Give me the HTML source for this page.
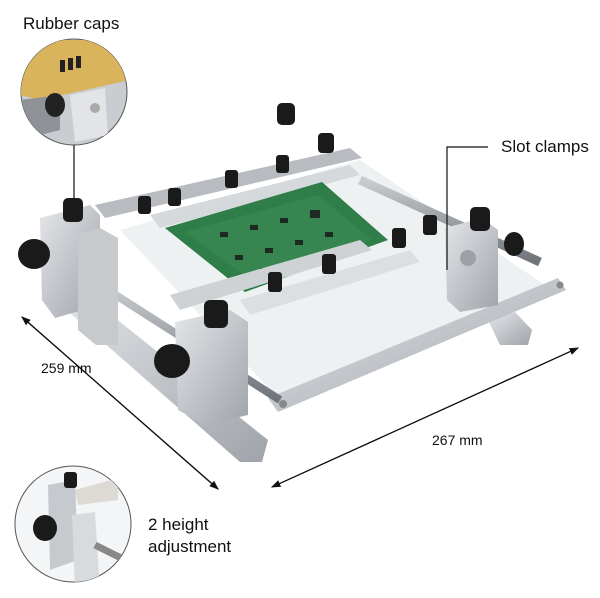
<!DOCTYPE html>
<html><head><meta charset="utf-8"><style>
body{margin:0;background:#fff;}
svg{display:block;font-family:"Liberation Sans",sans-serif;}
</style></head><body>
<svg width="600" height="598" viewBox="0 0 600 598" xmlns="http://www.w3.org/2000/svg">
<defs>
<linearGradient id="al" x1="0" y1="0" x2="1" y2="1"><stop offset="0" stop-color="#e4e6e9"/><stop offset="1" stop-color="#9fa4aa"/></linearGradient>
<linearGradient id="rod" x1="0" y1="0" x2="0" y2="1"><stop offset="0" stop-color="#c9ccd0"/><stop offset="1" stop-color="#6f747a"/></linearGradient>
<marker id="ah" markerWidth="8" markerHeight="8" refX="7" refY="4" orient="auto"><path d="M0,1 L8,4 L0,7 Z" fill="#111"/></marker>
<clipPath id="c1"><circle cx="74" cy="92" r="53"/></clipPath>
<clipPath id="c2"><circle cx="73" cy="524" r="58"/></clipPath>
</defs>
<!-- glass -->
<polygon points="120,230 360,160 545,285 280,400" fill="#eef1f2"/>
<!-- feet -->
<polygon points="55,300 80,290 268,440 262,462 240,462" fill="url(#al)"/>
<polygon points="488,320 515,312 532,330 528,345 500,345" fill="url(#al)"/>
<!-- back rail -->
<polygon points="95,205 350,148 362,158 105,218" fill="#b8bcc1"/>
<polygon points="150,215 350,165 360,175 160,228" fill="#d6d9dc"/>
<!-- right rod -->
<line x1="360" y1="180" x2="540" y2="262" stroke="url(#rod)" stroke-width="9"/>
<!-- PCB -->
<polygon points="165,228 322,182 388,240 245,292" fill="#2f7d48"/>
<polygon points="185,232 318,195 372,240 248,278" fill="#3a8a52" opacity="0.7"/>
<g fill="#1d2a22">
<rect x="220" y="232" width="8" height="5"/><rect x="250" y="225" width="8" height="5"/><rect x="280" y="218" width="8" height="5"/><rect x="310" y="210" width="10" height="8"/><rect x="235" y="255" width="8" height="5"/><rect x="265" y="248" width="8" height="5"/><rect x="295" y="240" width="8" height="5"/><rect x="325" y="232" width="8" height="5"/><rect x="260" y="268" width="8" height="5"/><rect x="300" y="258" width="8" height="5"/>
</g>
<!-- middle slot rail -->
<polygon points="170,295 360,240 372,250 180,310" fill="#cfd2d5"/>
<polygon points="240,300 410,250 420,262 250,315" fill="#dcdfe2"/>
<!-- front rail -->
<polygon points="268,398 558,278 566,290 278,412" fill="url(#al)"/>
<circle cx="283" cy="404" r="4" fill="#888"/><circle cx="560" cy="285" r="3.5" fill="#888"/>
<!-- left rod -->
<line x1="100" y1="285" x2="280" y2="400" stroke="url(#rod)" stroke-width="8"/>
<!-- left blocks -->
<polygon points="40,218 90,205 100,215 100,305 55,318 42,300" fill="url(#al)"/>
<polygon points="78,235 100,228 118,238 118,345 96,345 78,330" fill="#c7cacd"/>
<polygon points="175,322 230,310 248,322 248,415 205,425 178,410" fill="url(#al)"/>
<!-- right block -->
<polygon points="445,228 482,218 498,230 498,305 460,312 447,300" fill="url(#al)"/>
<!-- knobs -->
<g fill="#1a1a1a">
<rect x="63" y="198" width="20" height="24" rx="5"/>
<rect x="204" y="300" width="24" height="28" rx="6"/>
<rect x="470" y="207" width="20" height="24" rx="5"/>
<rect x="277" y="103" width="18" height="22" rx="5"/>
<rect x="318" y="133" width="16" height="20" rx="4"/>
<rect x="138" y="196" width="13" height="18" rx="3"/>
<rect x="168" y="188" width="13" height="18" rx="3"/>
<rect x="225" y="170" width="13" height="18" rx="3"/>
<rect x="276" y="155" width="13" height="18" rx="3"/>
<rect x="392" y="228" width="14" height="20" rx="3"/>
<rect x="423" y="215" width="14" height="20" rx="3"/>
<rect x="322" y="254" width="14" height="20" rx="3"/>
<rect x="268" y="272" width="14" height="20" rx="3"/>
<ellipse cx="34" cy="254" rx="16" ry="15"/>
<ellipse cx="172" cy="361" rx="18" ry="17"/>
<ellipse cx="514" cy="244" rx="10" ry="12"/>
</g>
<circle cx="468" cy="258" r="8" fill="#9ca1a6"/>
<!-- top inset -->
<circle cx="74" cy="92" r="53" fill="#c9ccd0" stroke="#555" stroke-width="1"/>
<g clip-path="url(#c1)">
<polygon points="20,40 130,40 130,80 40,100 20,95" fill="#d9b45c"/>
<rect x="60" y="60" width="5" height="12" fill="#222"/><rect x="68" y="58" width="5" height="12" fill="#222"/><rect x="76" y="56" width="5" height="12" fill="#222"/>
<polygon points="20,100 60,95 60,130 20,140" fill="#8f9398"/>
<ellipse cx="55" cy="105" rx="10" ry="12" fill="#222"/>
<polygon points="70,95 105,88 108,135 75,142" fill="#e2e4e7"/>
<circle cx="95" cy="108" r="5" fill="#aaa"/>
</g>
<line x1="74" y1="145" x2="74" y2="200" stroke="#111" stroke-width="1.2"/>
<!-- bottom inset -->
<circle cx="73" cy="524" r="58" fill="#f4f5f6" stroke="#555" stroke-width="1"/>
<g clip-path="url(#c2)">
<polygon points="48,485 75,480 78,560 50,570" fill="#c6c9cd"/>
<polygon points="75,490 118,478 118,500 78,505" fill="#dcdad2"/>
<polygon points="72,515 95,512 100,590 75,590" fill="#d8dbde"/>
<line x1="95" y1="545" x2="125" y2="560" stroke="#888" stroke-width="7"/>
<rect x="64" y="472" width="13" height="16" rx="3" fill="#1a1a1a"/>
<ellipse cx="45" cy="528" rx="12" ry="13" fill="#1a1a1a"/>
</g>
<!-- slot clamp line -->
<polyline points="488,147 447,147 447,270" fill="none" stroke="#111" stroke-width="1.2"/>
<!-- dimension arrows -->
<line x1="218" y1="489" x2="22" y2="317" stroke="#111" stroke-width="1.2" marker-end="url(#ah)"/>
<line x1="22" y1="317" x2="218" y2="489" stroke="#111" stroke-width="1.2" marker-end="url(#ah)"/>
<line x1="272" y1="487" x2="578" y2="348" stroke="#111" stroke-width="1.2" marker-end="url(#ah)"/>
<line x1="578" y1="348" x2="272" y2="487" stroke="#111" stroke-width="1.2" marker-end="url(#ah)"/>
<!-- labels -->
<text x="23" y="29" font-size="17" fill="#111">Rubber caps</text>
<text x="501" y="152" font-size="17" fill="#111">Slot clamps</text>
<text x="41" y="373" font-size="14" fill="#111">259 mm</text>
<text x="432" y="445" font-size="14" fill="#111">267 mm</text>
<text x="148" y="530" font-size="17" fill="#111">2 height</text>
<text x="148" y="552" font-size="17" fill="#111">adjustment</text>
</svg>
</body></html>
